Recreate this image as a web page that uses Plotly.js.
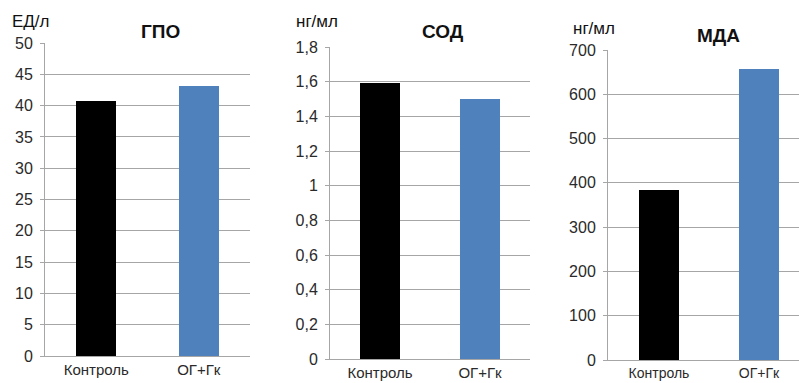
<!DOCTYPE html>
<html>
<head>
<meta charset="utf-8">
<script src="https://cdn.plot.ly/plotly-3.0.1.min.js"></script>
<style>
  html, body { margin: 0; padding: 0; background: #fff; }
  #chart { width: 799px; height: 383px; }
</style>
</head>
<body>
<div id="chart"></div>
<script>
// Groups shared by all three panels
const categories = ['Контроль', 'ОГ+Гк'];
const barColors = ['#000000', '#4f81bd'];

// ГПО, ЕД/л
const gpoValues = [40.7, 43.2];
const gpoTickVals = [0, 5, 10, 15, 20, 25, 30, 35, 40, 45, 50];
const gpoTickText = ['0', '5', '10', '15', '20', '25', '30', '35', '40', '45', '50'];

// СОД, нг/мл
const sodValues = [1.59, 1.50];
const sodTickVals = [0, 0.2, 0.4, 0.6, 0.8, 1.0, 1.2, 1.4, 1.6, 1.8];
const sodTickText = ['0', '0,2', '0,4', '0,6', '0,8', '1', '1,2', '1,4', '1,6', '1,8'];

// МДА, нг/мл
const mdaValues = [385, 657];
const mdaTickVals = [0, 100, 200, 300, 400, 500, 600, 700];
const mdaTickText = ['0', '100', '200', '300', '400', '500', '600', '700'];

const panelTitles = ['ГПО', 'СОД', 'МДА'];
const unitLabels = ['ЕД/л', 'нг/мл', 'нг/мл'];

const W = 799, H = 383;
const font = 'Liberation Sans, Arial, sans-serif';

function barTrace(values, xa, ya, width) {
  return {
    type: 'bar',
    x: categories,
    y: values,
    xaxis: xa,
    yaxis: ya,
    width: width,
    marker: { color: barColors, line: { width: 0 } },
    hoverinfo: 'x+y',
    showlegend: false
  };
}

const data = [
  barTrace(gpoValues, 'x', 'y', 0.39),
  barTrace(sodValues, 'x2', 'y2', 0.4),
  barTrace(mdaValues, 'x3', 'y3', 0.4)
];

function xAxis(domain, range, anchor) {
  return {
    domain: domain,
    range: range,
    anchor: anchor,
    type: 'category',
    showgrid: false,
    zeroline: false,
    showline: true,
    linecolor: '#a6a6a6',
    linewidth: 1,
    ticks: '',
    tickfont: { family: font, size: 15, color: '#2a2a2a' },
    fixedrange: true
  };
}

function yAxis(domain, range, anchor, vals, text) {
  return {
    domain: domain,
    range: range,
    anchor: anchor,
    tickmode: 'array',
    tickvals: vals,
    ticktext: text,
    showgrid: true,
    gridcolor: '#a6a6a6',
    gridwidth: 1,
    zeroline: false,
    showline: true,
    linecolor: '#a6a6a6',
    linewidth: 1,
    ticks: 'outside',
    ticklen: 4,
    tickcolor: '#a6a6a6',
    ticklabelstandoff: 4,
    tickfont: { family: font, size: 16, color: '#2a2a2a' },
    fixedrange: true
  };
}

const layout = {
  width: W,
  height: H,
  margin: { l: 0, r: 0, t: 0, b: 0 },
  paper_bgcolor: '#ffffff',
  plot_bgcolor: '#ffffff',
  bargap: 0,
  xaxis: xAxis([45 / W, 250 / W], [-0.5, 1.5], 'y'),
  yaxis: yAxis([1 - 356 / H, 1 - 43 / H], [0, 50], 'x', gpoTickVals, gpoTickText),
  xaxis2: xAxis([330 / W, 530 / W], [-0.5, 1.5], 'y2'),
  yaxis2: yAxis([1 - 359 / H, 1 - 47 / H], [0, 1.8], 'x2', sodTickVals, sodTickText),
  xaxis3: xAxis([608 / W, 1], [-0.51, 1.40], 'y3'),
  yaxis3: yAxis([1 - 360 / H, 1 - 50 / H], [0, 700], 'x3', mdaTickVals, mdaTickText),
  annotations: []
};
layout.xaxis3.tickfont = { family: font, size: 14, color: '#2a2a2a' };

// Panel titles and units, placed in pixel space of the page
const titlePos = [[160, 32], [443, 32], [718, 35]];
const unitPos = [[31, 22], [317, 22], [594, 28]];
panelTitles.forEach((t, i) => {
  layout.annotations.push({
    text: t, xref: 'paper', yref: 'paper',
    x: titlePos[i][0] / W, y: 1 - titlePos[i][1] / H,
    xanchor: 'center', yanchor: 'middle', showarrow: false,
    font: { family: font, size: 19, color: '#111', weight: 'bold' }
  });
});
unitLabels.forEach((t, i) => {
  layout.annotations.push({
    text: t, xref: 'paper', yref: 'paper',
    x: unitPos[i][0] / W, y: 1 - unitPos[i][1] / H,
    xanchor: 'center', yanchor: 'middle', showarrow: false,
    font: { family: font, size: 17, color: '#111' }
  });
});

Plotly.newPlot('chart', data, layout, { displayModeBar: false, staticPlot: true });
</script>
</body>
</html>
